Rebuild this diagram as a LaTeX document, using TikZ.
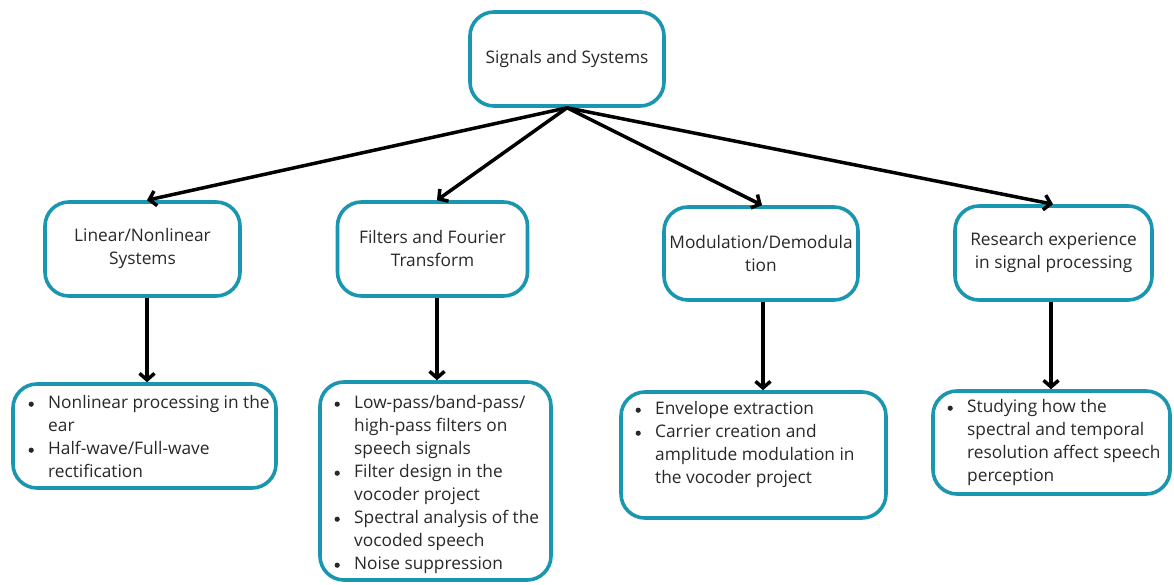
\documentclass[tikz,border=0pt]{standalone}
\usepackage{fontspec}
\setmainfont{Open Sans}
\usetikzlibrary{arrows.meta}
\definecolor{tealbox}{RGB}{26,150,177}
\definecolor{txt}{RGB}{40,40,40}
\newcommand{\bitem}{\makebox[21pt][l]{\hspace*{1.4pt}\tikz[x=1pt,y=1pt,baseline=-4.8pt]\fill[txt] (0,0) circle (2.6pt);}}
\newcommand{\bcont}{\hspace*{21pt}}
\begin{document}
\begin{tikzpicture}[x=1pt,y=-1pt,
  box/.style={draw=tealbox, line width=3.6pt, rounded corners=24pt, fill=white,
    inner sep=0pt, text=txt, align=center,
    font=\fontsize{17.3}{23}\selectfont},
  listtext/.style={inner sep=0pt, text=txt, align=left,
    font=\fontsize{17.3}{23}\selectfont},
  conn/.style={line width=3.5pt, black, -{Straight Barb[length=6.5pt,width=15pt]}}]
\fill[white] (0,0) rectangle (1174,585);
\node[box, minimum width=194pt, minimum height=94pt] (top) at (567,59) {Signals and Systems};
\node[box, minimum width=195pt, minimum height=94pt] (b1) at (142.5,249) {Linear/Nonlinear\\Systems};
\node[box, minimum width=190pt, minimum height=94pt] (b2) at (432.5,249) {Filters and Fourier\\Transform};
\node[box, minimum width=194pt, minimum height=93pt] (b3) at (761,253.5) {Modulation/Demodula\\tion};
\node[box, minimum width=197pt, minimum height=94pt] (b4) at (1053.5,253) {Research experience\\in signal processing};
\node[box, minimum width=263pt, minimum height=104pt] (c1) at (144.5,436) {};
\node[box, minimum width=231pt, minimum height=198pt] (c2) at (435.5,481) {};
\node[box, minimum width=265pt, minimum height=126pt] (c3) at (753.5,455) {};
\node[box, minimum width=237pt, minimum height=103pt] (c4) at (1051.5,442.5) {};
\node[listtext, anchor=west] (t1) at (27,437) {\bitem Nonlinear processing in the\\\bcont ear\\\bitem Half-wave/Full-wave\\\bcont rectification};
\node[listtext, anchor=west] (t2) at (333,485) {\bitem Low-pass/band-pass/\\\bcont high-pass filters on\\\bcont speech signals\\\bitem Filter design in the\\\bcont vocoder project\\\bitem Spectral analysis of the\\\bcont vocoded speech\\\bitem Noise suppression};
\node[listtext, anchor=west] (t3) at (634,445) {\bitem Envelope extraction\\\bitem Carrier creation and\\\bcont amplitude modulation in\\\bcont the vocoder project};
\node[listtext, anchor=west] (t4) at (946,443) {\bitem Studying how the\\\bcont spectral and temporal\\\bcont resolution affect speech\\\bcont perception};
\draw[conn] (top.south) -- ([xshift=4.5pt]b1.north);
\draw[conn] (top.south) -- ([xshift=4.5pt]b2.north);
\draw[conn] (top.south) -- ([xshift=1pt]b3.north);
\draw[conn] (top.south) -- ([xshift=-0.5pt]b4.north);
\draw[conn] ([xshift=4.5pt]b1.south) -- ([xshift=4.5pt]b1.south |- c1.north);
\draw[conn] ([xshift=4.5pt]b2.south) -- ([xshift=4.5pt]b2.south |- c2.north);
\draw[conn] ([xshift=2pt]b3.south) -- ([xshift=2pt]b3.south |- c3.north);
\draw[conn] ([xshift=-2.5pt]b4.south) -- ([xshift=-2.5pt]b4.south |- c4.north);
\end{tikzpicture}
\end{document}
